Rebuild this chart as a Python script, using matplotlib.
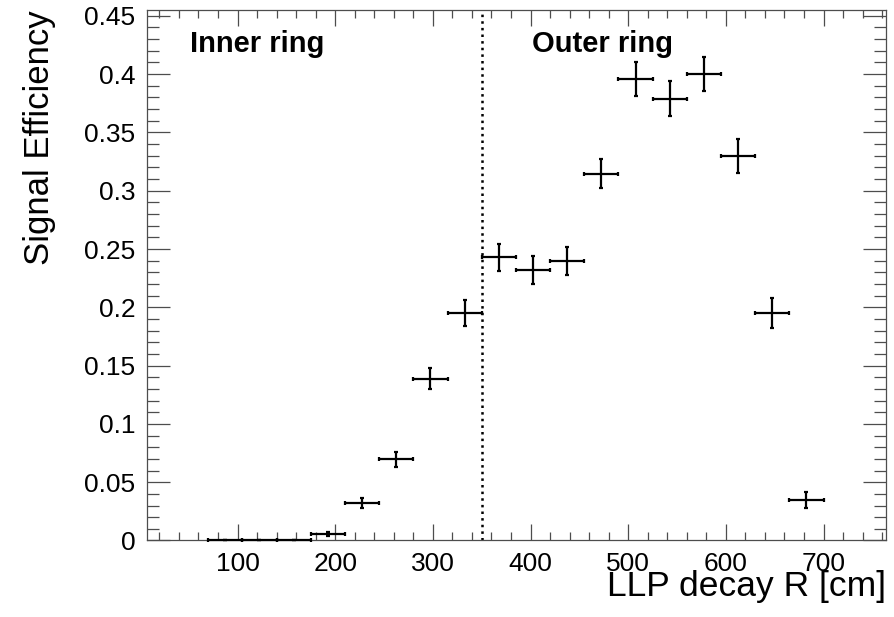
import matplotlib
matplotlib.use("Agg")
import matplotlib.pyplot as plt
from matplotlib.ticker import MultipleLocator, FuncFormatter

plt.rcParams['font.family'] = ['Liberation Sans', 'DejaVu Sans']

# bin centres [cm], half bin width, efficiency and its error
r_centre = [87.5, 122.5, 157.5, 192.5, 227.5, 262.5, 297.5, 332.5, 367.5,
            402.5, 437.5, 472.5, 507.5, 542.5, 577.5, 612.5, 647.5, 682.5]
r_halfw = [17.5] * len(r_centre)
eff = [0.0, 0.0, 0.0, 0.0055, 0.032, 0.0697, 0.1386, 0.195, 0.243,
       0.232, 0.240, 0.3146, 0.396, 0.379, 0.400, 0.330, 0.195, 0.0348]
eff_err = [0.0, 0.0, 0.0, 0.0018, 0.0045, 0.0066, 0.009, 0.011, 0.0117,
           0.0117, 0.012, 0.0126, 0.0145, 0.0147, 0.0149, 0.0147, 0.0126, 0.0067]

ring_boundary = 350

fig = plt.figure(figsize=(8.95, 6.17), dpi=100)
ax = fig.add_axes([0.1639, 0.124, 0.8261, 0.8598])

ax.errorbar(r_centre, eff, xerr=r_halfw, yerr=eff_err, fmt='none',
            ecolor='black', elinewidth=1.6, capsize=1.6, capthick=1.6,
            clip_on=False, zorder=3)
ax.axvline(ring_boundary, color='black', ls=':', lw=1.8)

ax.text(51, 0.419, 'Inner ring', fontsize=21, fontweight='bold',
        ha='left', va='baseline')
ax.text(401, 0.419, 'Outer ring', fontsize=21, fontweight='bold',
        ha='left', va='baseline')

ax.set_xlim(7, 764)
ax.set_ylim(0, 0.455)

ax.xaxis.set_major_locator(MultipleLocator(100))
ax.xaxis.set_minor_locator(MultipleLocator(20))
ax.yaxis.set_major_locator(MultipleLocator(0.05))
ax.yaxis.set_minor_locator(MultipleLocator(0.01))
ax.yaxis.set_major_formatter(FuncFormatter(lambda v, p: '%g' % round(v, 3)))

frame_col = '0.3'
for s in ax.spines.values():
    s.set_color(frame_col)
    s.set_linewidth(0.9)

ax.tick_params(axis='both', which='both', direction='in', top=True, right=True,
               color=frame_col, width=0.9, labelsize=19, pad=8)
ax.tick_params(axis='x', which='major', length=11.5)
ax.tick_params(axis='x', which='minor', length=6)
ax.tick_params(axis='y', which='major', length=16.5)
ax.tick_params(axis='y', which='minor', length=8.5)

ax.set_xlabel('LLP decay R [cm]', fontsize=25.5, ha='right', va='top')
ax.xaxis.set_label_coords(1.0, -0.056)
ax.set_ylabel('Signal Efficiency', fontsize=25, ha='right', va='top')
ax.yaxis.set_label_coords(-0.167, 1.0)

plt.savefig('out.png', dpi=100)
